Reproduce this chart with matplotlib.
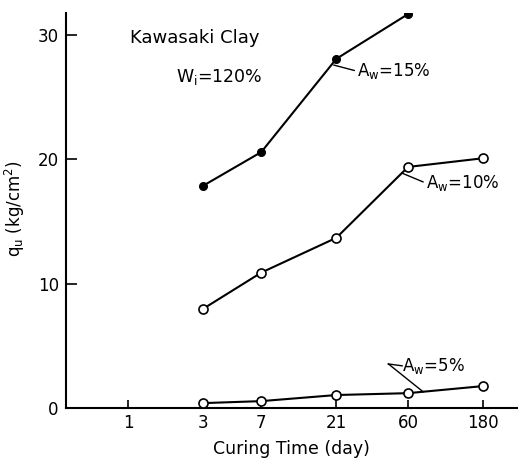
import matplotlib
matplotlib.use("Agg")
import matplotlib.pyplot as plt
from matplotlib.ticker import FixedLocator, FixedFormatter, NullLocator

# Curing time (days) and unconfined compressive strength qu (kg/cm^2)
days_15 = [3, 7, 21, 60]
qu_15 = [17.9, 20.6, 28.1, 31.7]

days_10 = [3, 7, 21, 60, 180]
qu_10 = [8.0, 10.9, 13.7, 19.4, 20.1]

days_5 = [3, 7, 21, 60, 180]
qu_5 = [0.4, 0.56, 1.05, 1.2, 1.77]

x_ticks = [1, 3, 7, 21, 60, 180]
x_tick_labels = ["1", "3", "7", "21", "60", "180"]
y_ticks = [0, 10, 20, 30]
y_tick_labels = ["0", "10", "20", "30"]

plt.rcParams["font.family"] = ["DejaVu Sans"]
plt.rcParams["mathtext.default"] = "regular"

fig = plt.figure(figsize=(5.18, 4.58), dpi=100)
ax = fig.add_axes([0.127, 0.109, 0.873, 0.863])

ax.set_xscale("log")
ax.set_xlim(0.40, 300)
ax.set_ylim(0, 31.8)

lw = 1.5
ax.plot(days_15, qu_15, color="black", lw=lw, marker="o", ms=5.5,
        mfc="black", mec="black", zorder=3)
ax.plot(days_10, qu_10, color="black", lw=lw, marker="o", ms=6.5,
        mfc="white", mec="black", mew=1.2, zorder=3)
ax.plot(days_5, qu_5, color="black", lw=lw, marker="o", ms=6.5,
        mfc="white", mec="black", mew=1.2, zorder=3)

for s in ["top", "right"]:
    ax.spines[s].set_visible(False)
for s in ["left", "bottom"]:
    ax.spines[s].set_linewidth(1.5)

ax.xaxis.set_major_locator(FixedLocator(x_ticks))
ax.xaxis.set_major_formatter(FixedFormatter(x_tick_labels))
ax.xaxis.set_minor_locator(NullLocator())
ax.yaxis.set_major_locator(FixedLocator(y_ticks))
ax.yaxis.set_major_formatter(FixedFormatter(y_tick_labels))

ax.tick_params(axis="x", direction="in", length=6, width=1.2,
               labelsize=12, pad=4)
ax.tick_params(axis="y", direction="in", length=8, width=1.2,
               labelsize=12, pad=5)

ax.set_xlabel("Curing Time (day)", fontsize=12.5, va="center")
ax.xaxis.set_label_coords(0.5, -0.104)
ax.set_ylabel("q$_u$ (kg/cm$^2$)", fontsize=12, va="center")
ax.yaxis.set_label_coords(-0.113, 0.505)

ax.text(1.03, 29.8, "Kawasaki Clay", fontsize=13, va="center", ha="left")
ax.text(2.02, 26.6, "W$_i$=120%", fontsize=12.5, va="center", ha="left")

# curve labels with leader lines
ax.annotate("A$_w$=15%", xy=(20.2, 27.6), xytext=(28.5, 27.1),
            fontsize=12, va="center", ha="left",
            arrowprops=dict(arrowstyle="-", lw=1.0, color="black",
                            shrinkA=0, shrinkB=0, relpos=(0, 0.5)))
ax.annotate("A$_w$=10%", xy=(55, 18.9), xytext=(78, 18.1),
            fontsize=12, va="center", ha="left",
            arrowprops=dict(arrowstyle="-", lw=1.0, color="black",
                            shrinkA=0, shrinkB=0, relpos=(0, 0.5)))
ax.text(55, 3.35, "A$_w$=5%", fontsize=12, va="center", ha="left")
ax.plot([45, 55], [3.55, 3.4], color="black", lw=1.0)
ax.plot([45, 74.8], [3.55, 1.31], color="black", lw=1.0)

fig.savefig("out.png", dpi=100)
